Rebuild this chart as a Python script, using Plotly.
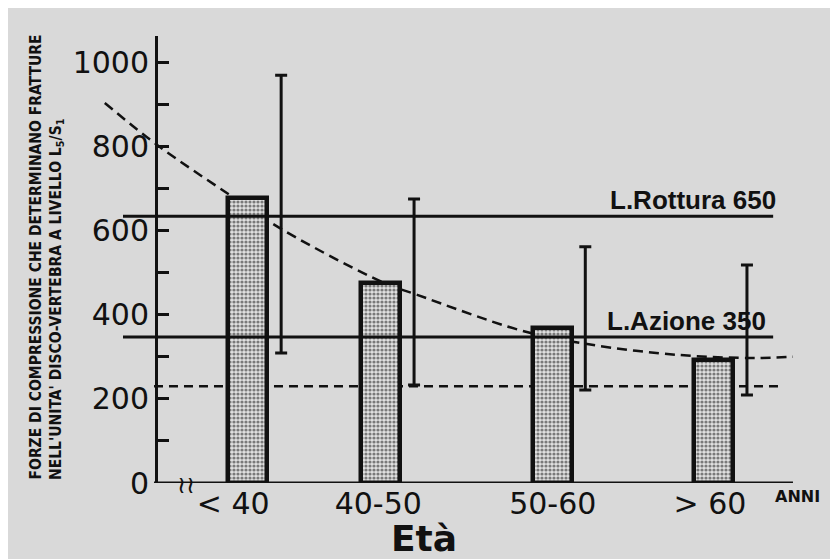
import plotly.graph_objects as go

# ---------------- data ----------------
categories = ["< 40", "40-50", "50-60", "> 60"]
mean_force = [677, 475, 368, 292]
range_low = [309, 233, 221, 209]
range_high = [969, 675, 561, 518]

trend_age = [-0.77, 0.05, 1.14, 2.02, 3.61, 4.12, 5.73, 6.78, 8.23, 9.41, 10.0]
trend_force = [903, 803, 689, 601, 475, 447, 363, 330, 304, 297, 300]

limit_labels = ["L.Rottura 650", "L.Azione 350"]
limit_values = [634, 347]
baseline_value = 230

y_title_1 = "FORZE DI COMPRESSIONE CHE DETERMINANO FRATTURE"
y_title_2 = "NELL'UNITA' DISCO-VERTEBRA A LIVELLO L<sub>5</sub>/S<sub>1</sub>"
x_title = "Età"
x_unit = "ANNI"

# ---------------- layout constants ----------------
slot_centres = [1.47, 3.55, 6.23, 8.76]
label_centres = [1.24, 3.51, 6.24, 8.70]
bar_width = 0.61
err_offset = 0.52
x_range = [-0.845, 10.11]
y_range = [0, 1062]
ink = "#111111"

OFF = 8                      # page body margin of the html page
W, H = 838 - OFF, 559 - OFF  # figure size so that it fills the window
ML, MR, MT, MB = 100 - OFF, 38, 36 - OFF, 76
PL, PR, PT, PB = 100, 800, 36, 483  # plot area in window pixels
pw, ph = PR - PL, PB - PT


def px_x(p):
    return (p - PL) / pw


def px_y(p):
    return (PB - p) / ph


fig = go.Figure()

# dashed trend curve (base subplot, sits beneath the bars)
fig.add_trace(go.Scatter(
    x=trend_age, y=trend_force, mode="lines",
    line=dict(color=ink, width=2.5, dash="10px,6px", shape="spline"),
    xaxis="x", yaxis="y", hoverinfo="skip", cliponaxis=False,
))

# bars on overlay subplot
fig.add_trace(go.Bar(
    x=slot_centres, y=mean_force, width=bar_width,
    marker=dict(
        color="#e0e0e0",
        line=dict(color=ink, width=4.5),
        pattern=dict(shape=".", fgcolor="#111111", bgcolor="#e0e0e0", size=4, solidity=0.5),
    ),
    xaxis="x2", yaxis="y2",
))

# range bars beside each bar
mid = [(lo + hi) / 2 for lo, hi in zip(range_low, range_high)]
half = [(hi - lo) / 2 for lo, hi in zip(range_low, range_high)]
fig.add_trace(go.Scatter(
    x=[c + err_offset for c in slot_centres], y=mid, mode="markers",
    marker=dict(size=1, color="rgba(0,0,0,0)"),
    error_y=dict(type="data", array=half, symmetric=True, color=ink, thickness=3, width=6),
    xaxis="x2", yaxis="y2",
))

shapes = []
# x axis line
shapes.append(dict(type="line", xref="x", yref="y", x0=0, x1=10, y0=0, y1=0,
                   line=dict(color=ink, width=3), layer="above"))
# dashed baseline
shapes.append(dict(type="line", xref="x", yref="y", x0=0, x1=9.84,
                   y0=baseline_value, y1=baseline_value,
                   line=dict(color=ink, width=2.5, dash="9px,6px"), layer="below"))
# limit lines
for v in limit_values:
    shapes.append(dict(type="line", xref="x", yref="y", x0=-0.485, x1=9.69, y0=v, y1=v,
                       line=dict(color=ink, width=3), layer="above"))

annotations = []
label_right = [9.77, 9.61]
for txt, v, xr in zip(limit_labels, limit_values, label_right):
    annotations.append(dict(text=txt, x=xr, y=v, xref="x", yref="y",
                            xanchor="right", yanchor="middle", yshift=16, showarrow=False,
                            font=dict(family="Liberation Sans, Arial", size=26, color=ink, weight="bold")))

annotations.append(dict(text=y_title_1, x=px_x(35), y=px_y(482), xref="paper", yref="paper",
                        textangle=-90, xanchor="center", yanchor="bottom", showarrow=False,
                        font=dict(family="DejaVu Sans Condensed, DejaVu Sans", size=15.5, color=ink, weight="bold")))
annotations.append(dict(text=y_title_2, x=px_x(57), y=px_y(482), xref="paper", yref="paper",
                        textangle=-90, xanchor="center", yanchor="bottom", showarrow=False,
                        font=dict(family="DejaVu Sans Condensed, DejaVu Sans", size=15.5, color=ink, weight="bold")))
annotations.append(dict(text=x_title, x=px_x(424), y=px_y(538), xref="paper", yref="paper",
                        xanchor="center", yanchor="middle", showarrow=False,
                        font=dict(family="DejaVu Sans", size=36, color=ink, weight="bold")))
annotations.append(dict(text=x_unit, x=px_x(797), y=px_y(496), xref="paper", yref="paper",
                        xanchor="center", yanchor="middle", showarrow=False,
                        font=dict(family="DejaVu Sans", size=16, color=ink, weight="bold")))
annotations.append(dict(text="≀≀", x=px_x(186), y=px_y(485), xref="paper", yref="paper",
                        xanchor="center", yanchor="middle", showarrow=False,
                        font=dict(family="DejaVu Sans", size=24, color=ink)))

tickfont = dict(family="DejaVu Sans", size=30, color=ink)

fig.update_layout(
    width=W, height=H, autosize=False,
    margin=dict(l=ML, r=MR, t=MT, b=MB),
    paper_bgcolor="#d9d9d9", plot_bgcolor="rgba(0,0,0,0)",
    showlegend=False, bargap=0,
    shapes=shapes, annotations=annotations,
    xaxis=dict(range=x_range, domain=[0, 1], showline=False, showgrid=False, zeroline=False,
               tickmode="array", tickvals=label_centres, ticktext=categories, ticks="",
               tickfont=tickfont, fixedrange=True),
    yaxis=dict(range=y_range, anchor="free", position=px_x(156), side="left",
               showline=True, linecolor=ink, linewidth=3, showgrid=False, zeroline=False,
               tickmode="linear", tick0=0, dtick=200, ticks="inside", ticklen=11,
               tickwidth=2.5, tickcolor=ink, tickfont=tickfont, fixedrange=True,
               minor=dict(ticks="inside", ticklen=11, tickwidth=2.5, tickcolor=ink,
                          dtick=100, tick0=0, showgrid=False)),
    xaxis2=dict(range=x_range, overlaying="x", anchor="y2", visible=False, fixedrange=True),
    yaxis2=dict(range=y_range, overlaying="y", anchor="x2", visible=False, fixedrange=True),
)

fig.write_html("out.html")
